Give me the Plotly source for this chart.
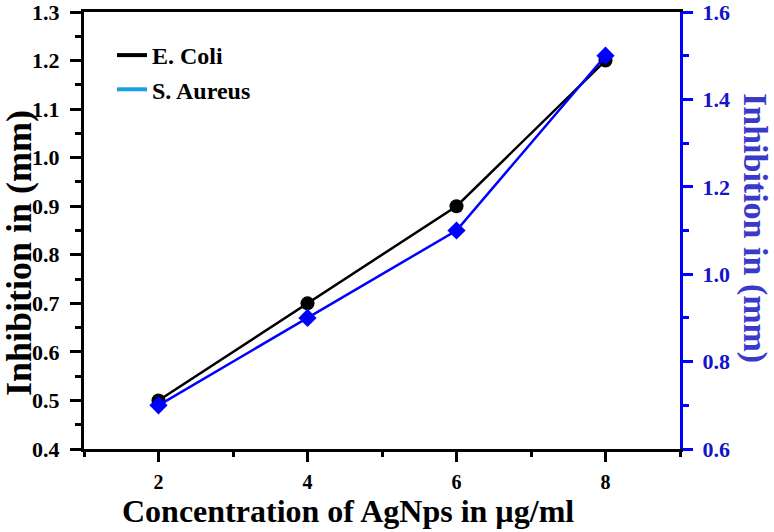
import plotly.graph_objects as go

conc = [2, 4, 6, 8]
e_coli = [0.5, 0.7, 0.9, 1.2]
s_aureus = [0.7, 0.9, 1.1, 1.5]

x_title = "Concentration of AgNps in µg/ml"
y_title = "Inhibition in (mm)"

FONT = "Liberation Serif"
BLUE = "#0000ff"
TXT_BLUE = "#1414c8"
TITLE_BLUE = "#3a3ac8"

L, R, T, B = 84, 94, 12, 83
W, H = 774, 532
PW, PH = W - L - R, H - T - B


def px_x(px):
    return (px - L) / PW


def px_y(py):
    return 1 - (py - T) / PH


fig = go.Figure()
fig.add_trace(go.Scatter(x=conc, y=e_coli, mode="lines+markers", name="E. Coli",
                         line=dict(color="black", width=2.5),
                         marker=dict(symbol="circle", size=14, color="black"),
                         showlegend=False))
fig.add_trace(go.Scatter(x=conc, y=s_aureus, mode="lines+markers", name="S. Aureus",
                         yaxis="y2",
                         line=dict(color=BLUE, width=2.5),
                         marker=dict(symbol="diamond", size=14, color=BLUE),
                         showlegend=False))
# legend entries (line only)
fig.add_trace(go.Scatter(x=[None], y=[None], mode="lines", name="E. Coli",
                         line=dict(color="black", width=4)))
fig.add_trace(go.Scatter(x=[None], y=[None], mode="lines", name="S. Aureus",
                         line=dict(color="#1a9fe0", width=4)))

fig.update_layout(
    width=W, height=H,
    margin=dict(l=L, r=R, t=T, b=B),
    paper_bgcolor="white", plot_bgcolor="white",
    font=dict(family=FONT, size=18, color="black", weight="bold"),
    showlegend=True,
    legend=dict(x=px_x(112), y=px_y(33), xanchor="left", yanchor="top",
                bgcolor="rgba(0,0,0,0)", tracegroupgap=0,
                font=dict(family=FONT, size=24, color="black", weight="bold")),
    xaxis=dict(range=[1, 9], tickvals=[2, 4, 6, 8], showgrid=False, zeroline=False,
               showline=True, linecolor="black", linewidth=3, mirror=True,
               ticks="outside", ticklen=10, tickwidth=3, tickcolor="black",
               ticklabelstandoff=3, automargin=False, ticklabeloverflow="allow",
               minor=dict(tickvals=[1, 3, 5, 7, 9], ticks="outside", ticklen=5,
                          tickwidth=3, tickcolor="black", showgrid=False),
               tickfont=dict(family=FONT, size=20, color="black", weight="bold")),
    yaxis=dict(range=[0.4, 1.3], dtick=0.1, tick0=0.4, tickformat=".1f",
               showgrid=False, zeroline=False, automargin=False,
               ticklabeloverflow="allow",
               showline=True, linecolor="black", linewidth=3,
               ticks="outside", ticklen=11, tickwidth=3, tickcolor="black",
               ticklabelstandoff=6,
               minor=dict(dtick=0.05, tick0=0.4, ticks="outside", ticklen=6,
                          tickwidth=3, tickcolor="black", showgrid=False),
               tickfont=dict(family=FONT, size=22, color="black", weight="bold")),
    yaxis2=dict(range=[0.6, 1.6], dtick=0.2, tick0=0.6, tickformat=".1f",
                overlaying="y", side="right", anchor="x", automargin=False,
                ticklabeloverflow="allow",
                showgrid=False, zeroline=False,
                showline=True, linecolor=BLUE, linewidth=3,
                ticks="outside", ticklen=10, tickwidth=3, tickcolor=BLUE,
                ticklabelstandoff=5,
                minor=dict(dtick=0.1, tick0=0.6, ticks="outside", ticklen=6,
                           tickwidth=3, tickcolor=BLUE, showgrid=False),
                tickfont=dict(family=FONT, size=22, color=TXT_BLUE, weight="bold")),
    annotations=[
        dict(text=x_title, xref="paper", yref="paper", x=px_x(348), y=px_y(511),
             xanchor="center", yanchor="middle", showarrow=False,
             font=dict(family=FONT, size=32, color="black", weight="bold")),
        dict(text=y_title, xref="paper", yref="paper", x=px_x(19), y=px_y(253),
             xanchor="center", yanchor="middle", showarrow=False, textangle=-90,
             font=dict(family=FONT, size=36, color="black", weight="bold")),
        dict(text=y_title, xref="paper", yref="paper", x=px_x(755), y=px_y(228),
             xanchor="center", yanchor="middle", showarrow=False, textangle=90,
             font=dict(family=FONT, size=34, color=TITLE_BLUE, weight="bold")),
    ],
)

fig.write_html("out.html", config={"displayModeBar": False},
               post_script="document.body.style.margin='0';")
